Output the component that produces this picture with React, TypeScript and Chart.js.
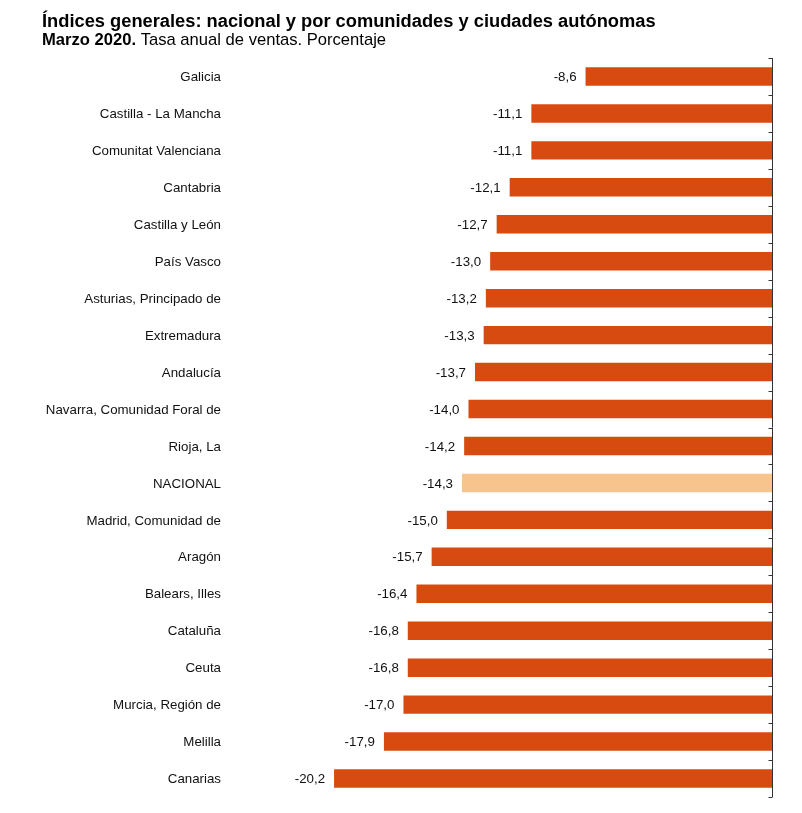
import React, { useEffect, useRef } from "react";
import { Chart, registerables } from "chart.js";

Chart.register(...registerables);

const regions: string[] = [
  "Galicia",
  "Castilla - La Mancha",
  "Comunitat Valenciana",
  "Cantabria",
  "Castilla y León",
  "País Vasco",
  "Asturias, Principado de",
  "Extremadura",
  "Andalucía",
  "Navarra, Comunidad Foral de",
  "Rioja, La",
  "NACIONAL",
  "Madrid, Comunidad de",
  "Aragón",
  "Balears, Illes",
  "Cataluña",
  "Ceuta",
  "Murcia, Región de",
  "Melilla",
  "Canarias",
];

const annualRate: number[] = [
  -8.6, -11.1, -11.1, -12.1, -12.7, -13.0, -13.2, -13.3, -13.7, -14.0,
  -14.2, -14.3, -15.0, -15.7, -16.4, -16.8, -16.8, -17.0, -17.9, -20.2,
];

const titleText = "Índices generales: nacional y por comunidades y ciudades autónomas";
const subtitleBold = "Marzo 2020.";
const subtitleRest = " Tasa anual de ventas. Porcentaje";

const BAR_COLOR = "#D84B10";
const NATIONAL_COLOR = "#F6C48C";
const FONT = "'Liberation Sans', Arial, sans-serif";

const fmt = (v: number) => v.toFixed(1).replace(".", ",");

// Title, subtitle, category and value labels, and the zero axis with its ticks
const decorations = {
  id: "decorations",
  afterDraw(chart: any) {
    const { ctx, chartArea } = chart;
    const yScale = chart.scales.y;
    const xScale = chart.scales.x;
    ctx.save();

    // heading
    ctx.fillStyle = "#000";
    ctx.textAlign = "left";
    ctx.textBaseline = "alphabetic";
    ctx.font = `bold 18.3px ${FONT}`;
    ctx.fillText(titleText, 42, 27);
    ctx.font = `bold 16.6px ${FONT}`;
    ctx.fillText(subtitleBold, 42, 45);
    const w = ctx.measureText(subtitleBold).width;
    ctx.font = `16.6px ${FONT}`;
    ctx.fillText(subtitleRest, 42 + w, 45);

    ctx.font = `13.3px ${FONT}`;
    ctx.fillStyle = "#111";
    ctx.textAlign = "right";
    ctx.textBaseline = "middle";
    regions.forEach((r, i) => {
      const y = yScale.getPixelForValue(i);
      // region name
      ctx.fillText(r, 221, y + 1);
      // value to the left of the bar
      const x = xScale.getPixelForValue(annualRate[i]);
      ctx.fillText(fmt(annualRate[i]), x - 9, y + 1);
    });

    // axis line at zero with ticks at category boundaries
    const x0 = Math.round(xScale.getPixelForValue(0)) + 0.5;
    ctx.strokeStyle = "#333";
    ctx.lineWidth = 1;
    ctx.beginPath();
    ctx.moveTo(x0, chartArea.top);
    ctx.lineTo(x0, chartArea.bottom);
    const n = regions.length;
    const band = (chartArea.bottom - chartArea.top) / n;
    for (let i = 0; i <= n; i++) {
      const yy = Math.round(chartArea.top + band * i) + 0.5;
      ctx.moveTo(x0 - 4, yy);
      ctx.lineTo(x0, yy);
    }
    ctx.stroke();
    ctx.restore();
  },
};

export default function App() {
  const canvasRef = useRef<HTMLCanvasElement | null>(null);

  useEffect(() => {
    document.body.style.margin = "0";
    const canvas = canvasRef.current;
    if (!canvas) return;
    const chart = new Chart(canvas, {
      type: "bar",
      data: {
        labels: regions,
        datasets: [
          {
            data: annualRate,
            backgroundColor: regions.map((r) =>
              r === "NACIONAL" ? NATIONAL_COLOR : BAR_COLOR
            ),
            borderWidth: 0,
            barPercentage: 0.5,
            categoryPercentage: 1,
          },
        ],
      },
      options: {
        indexAxis: "y",
        responsive: false,
        animation: false,
        devicePixelRatio: 1,
        layout: { padding: { top: 58, bottom: 16, right: 30, left: 0 } },
        plugins: {
          legend: { display: false },
          tooltip: { enabled: false },
          title: { display: false },
        },
        scales: {
          x: {
            min: -25,
            max: 0,
            display: false,
          },
          y: {
            afterFit(scale: any) {
              scale.width = 230;
            },
            grid: { display: false, drawTicks: false },
            border: { display: false },
            ticks: { display: false },
          },
        },
      },
      plugins: [decorations],
    });
    return () => chart.destroy();
  }, []);

  return (
    <div style={{ width: 802, height: 813, background: "#fff" }}>
      <canvas ref={canvasRef} width={802} height={813} />
    </div>
  );
}
